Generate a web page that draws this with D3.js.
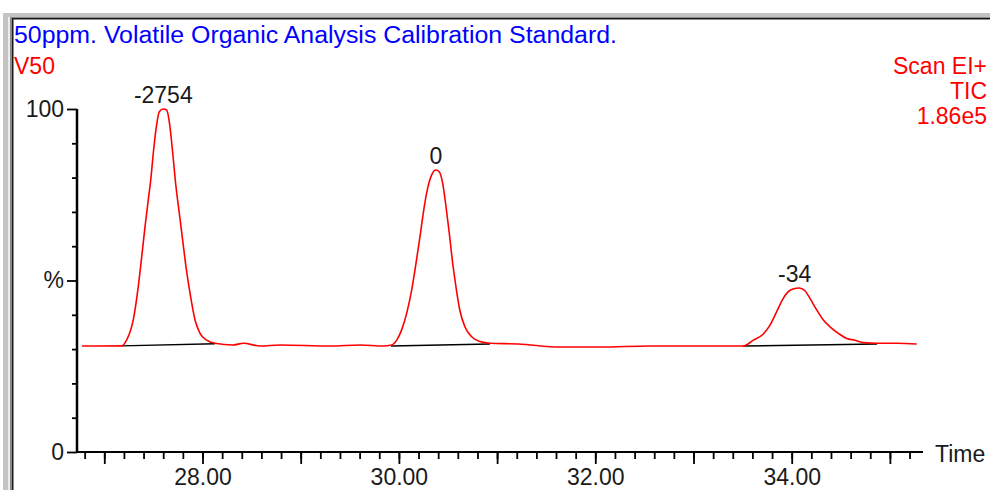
<!DOCTYPE html>
<html>
<head>
<meta charset="utf-8">
<script src="https://cdn.jsdelivr.net/npm/d3@7"></script>
<style>
  html, body { margin: 0; padding: 0; background: #fff; }
  svg { display: block; }
  text { font-family: "Liberation Sans", Arial, sans-serif; }
</style>
</head>
<body>
<div id="chart"></div>
<script>
// ─── Data ──────────────────────────────────────────────────────
const titleText = '50ppm. Volatile Organic Analysis Calibration Standard.';
const sampleName = 'V50';
const scanInfo = ['Scan EI+', 'TIC', '1.86e5'];

// TIC trace: retention time (min) and relative intensity (%)
const traceTime = [
    26.773, 26.956, 27.177, 27.227, 27.295, 27.346, 27.381, 27.415, 27.448, 27.473,
    27.499, 27.526, 27.560, 27.601, 27.635, 27.669, 27.697, 27.730, 27.764, 27.798,
    27.832, 27.873, 27.924, 27.975, 28.043, 28.127, 28.314, 28.415, 28.586, 28.789,
    29.298, 29.604, 29.841, 29.927, 29.978, 30.028, 30.079, 30.130, 30.174, 30.215,
    30.248, 30.289, 30.334, 30.378, 30.411, 30.446, 30.480, 30.513, 30.548, 30.581,
    30.620, 30.672, 30.741, 30.825, 30.927, 31.216, 31.640, 32.048, 32.557, 33.066,
    33.507, 33.609, 33.711, 33.779, 33.847, 33.908, 33.960, 34.020, 34.077, 34.135,
    34.186, 34.255, 34.322, 34.390, 34.475, 34.560, 34.645, 34.729, 34.866, 35.069,
    35.273
];
const traceValue = [
    30.9, 30.9, 30.95, 32.6, 38.5, 48.2, 56.9, 65.7, 73.5, 79.3,
    87.1, 93.9, 99.2, 100.0, 99.7, 94.8, 87.1, 77.4, 69.6, 61.8,
    54.0, 46.3, 38.5, 34.6, 32.6, 31.7, 31.2, 31.7, 30.9, 31.2,
    30.9, 31.2, 30.9, 31.2, 32.6, 35.6, 40.4, 47.2, 55.0, 62.8,
    69.6, 76.4, 80.8, 82.2, 81.7, 78.3, 71.5, 63.8, 55.0, 48.2,
    41.4, 36.5, 33.6, 32.2, 31.7, 31.5, 30.6, 30.6, 30.9, 30.9,
    30.9, 32.6, 34.4, 37.0, 40.9, 44.5, 46.6, 47.6, 47.8, 47.0,
    44.8, 41.4, 38.5, 36.5, 34.6, 33.1, 32.6, 31.9, 31.7, 31.7,
    31.5
];

// integration baselines under each peak: [time, value] at start and end
const baseStart = [[27.177, 30.95], [29.920, 30.90], [33.507, 30.90]];
const baseEnd   = [[28.127, 31.55], [30.927, 31.50], [34.870, 31.50]];

// peak annotations
const peakTime   = [27.601, 30.378, 34.030];
const peakValue  = [100.0, 82.2, 47.8];
const peakLabels = ['-2754', '0', '-34'];

// axis ticks
const xMinorTicks = d3.range(0, 43).map(i => +(26.8 + i * 0.2).toFixed(1));
const xMajorTicks = [27, 28, 29, 30, 31, 32, 33, 34, 35];
const xLabelTicks = [28, 30, 32, 34];
const yMinorTicks = [10, 20, 30, 40, 60, 70, 80, 90];
const yMajorTicks = [0, 50, 100];
const yTickLabels = { 0: '0', 50: '%', 100: '100' };

// ─── Layout ────────────────────────────────────────────────────
const W = 990, H = 490;
const FONT = 23;

const svg = d3.select('#chart').append('svg')
    .attr('width', W).attr('height', H);

svg.append('rect').attr('width', W).attr('height', H).attr('fill', '#fff');

// window frame (top + left edges)
svg.append('rect').attr('x', 4).attr('y', 13).attr('width', W - 4).attr('height', 5).attr('fill', '#c4c4c4');
svg.append('rect').attr('x', 3).attr('y', 13).attr('width', 5).attr('height', H - 13).attr('fill', '#c4c4c4');
svg.append('rect').attr('x', 8).attr('y', 17).attr('width', 2).attr('height', H - 17).attr('fill', '#ececec');
svg.append('rect').attr('x', 10).attr('y', 17).attr('width', 2).attr('height', H - 17).attr('fill', '#8a8a8a');
svg.append('rect').attr('x', 10).attr('y', 17).attr('width', W - 10).attr('height', 1).attr('fill', '#8a8a8a');
svg.append('rect').attr('x', 12).attr('y', 18).attr('width', 1.5).attr('height', H - 18).attr('fill', '#1a1a1a');
svg.append('rect').attr('x', 12).attr('y', 18).attr('width', W - 12).attr('height', 1.5).attr('fill', '#1a1a1a');

// header text
svg.append('text')
    .attr('x', 14).attr('y', 43)
    .attr('font-size', 23).attr('fill', '#0000ff')
    .attr('textLength', 603).attr('lengthAdjust', 'spacingAndGlyphs')
    .text(titleText);

svg.append('text')
    .attr('x', 14).attr('y', 74)
    .attr('font-size', 23).attr('fill', '#ff0000')
    .text(sampleName);

svg.selectAll('text.scan')
    .data(scanInfo)
    .enter().append('text')
    .attr('class', 'scan')
    .attr('x', 987)
    .attr('y', (d, i) => 74 + i * 25)
    .attr('text-anchor', 'end')
    .attr('font-size', 23).attr('fill', '#ff0000')
    .text(d => d);

// ─── Scales ────────────────────────────────────────────────────
const x = d3.scaleLinear().domain([26.712, 35.337]).range([76, 923]);
const y = d3.scaleLinear().domain([0, 100]).range([452, 109]);

// ─── Axes ──────────────────────────────────────────────────────
function styleAxis(g) {
    g.select('.domain').remove();
    g.selectAll('.tick line').attr('stroke', '#000').attr('stroke-width', 1.8);
    g.selectAll('.tick text')
        .attr('fill', '#1a1a1a')
        .attr('font-size', FONT)
        .attr('font-family', '"Liberation Sans", Arial, sans-serif');
}

svg.append('g')
    .attr('transform', `translate(0,${y(0)})`)
    .call(d3.axisBottom(x).tickValues(xMinorTicks).tickSize(7).tickFormat(''))
    .call(styleAxis);

svg.append('g')
    .attr('transform', `translate(0,${y(0)})`)
    .call(d3.axisBottom(x).tickValues(xMajorTicks).tickSize(12).tickPadding(5)
        .tickFormat(d => xLabelTicks.includes(d) ? d3.format('.2f')(d) : ''))
    .call(styleAxis);

svg.append('g')
    .attr('transform', `translate(${x.range()[0] + 1},0)`)
    .call(d3.axisLeft(y).tickValues(yMinorTicks).tickSize(5).tickFormat(''))
    .call(styleAxis);

svg.append('g')
    .attr('transform', `translate(${x.range()[0] + 1},0)`)
    .call(d3.axisLeft(y).tickValues(yMajorTicks).tickSize(10).tickPadding(3)
        .tickFormat(d => yTickLabels[d]))
    .call(styleAxis);

// axis lines
svg.append('line')
    .attr('x1', x.range()[0] + 1).attr('x2', x.range()[0] + 1)
    .attr('y1', y(100)).attr('y2', y(0) + 1)
    .attr('stroke', '#000').attr('stroke-width', 2.5);

svg.append('line')
    .attr('x1', x.range()[0]).attr('x2', x.range()[1])
    .attr('y1', y(0)).attr('y2', y(0))
    .attr('stroke', '#000').attr('stroke-width', 2);

svg.append('text')
    .attr('x', 935).attr('y', 462)
    .attr('font-size', FONT).attr('fill', '#1a1a1a')
    .text('Time');

// ─── Integration baselines ─────────────────────────────────────
svg.selectAll('line.base')
    .data(baseStart)
    .enter().append('line')
    .attr('class', 'base')
    .attr('x1', d => x(d[0])).attr('y1', d => y(d[1]))
    .attr('x2', (d, i) => x(baseEnd[i][0])).attr('y2', (d, i) => y(baseEnd[i][1]))
    .attr('stroke', '#000').attr('stroke-width', 1.4);

// ─── TIC trace ─────────────────────────────────────────────────
const trace = traceTime.map((t, i) => [t, traceValue[i]]);

svg.append('path')
    .datum(trace)
    .attr('fill', 'none')
    .attr('stroke', '#ff0000')
    .attr('stroke-width', 1.6)
    .attr('stroke-linejoin', 'round')
    .attr('d', d3.line().x(d => x(d[0])).y(d => y(d[1])).curve(d3.curveMonotoneX));

// ─── Peak labels ───────────────────────────────────────────────
svg.selectAll('text.peak')
    .data(peakLabels)
    .enter().append('text')
    .attr('class', 'peak')
    .attr('x', (d, i) => x(peakTime[i]))
    .attr('y', (d, i) => y(peakValue[i]) - 6)
    .attr('text-anchor', 'middle')
    .attr('font-size', FONT).attr('fill', '#1a1a1a')
    .text(d => d);
</script>
</body>
</html>
